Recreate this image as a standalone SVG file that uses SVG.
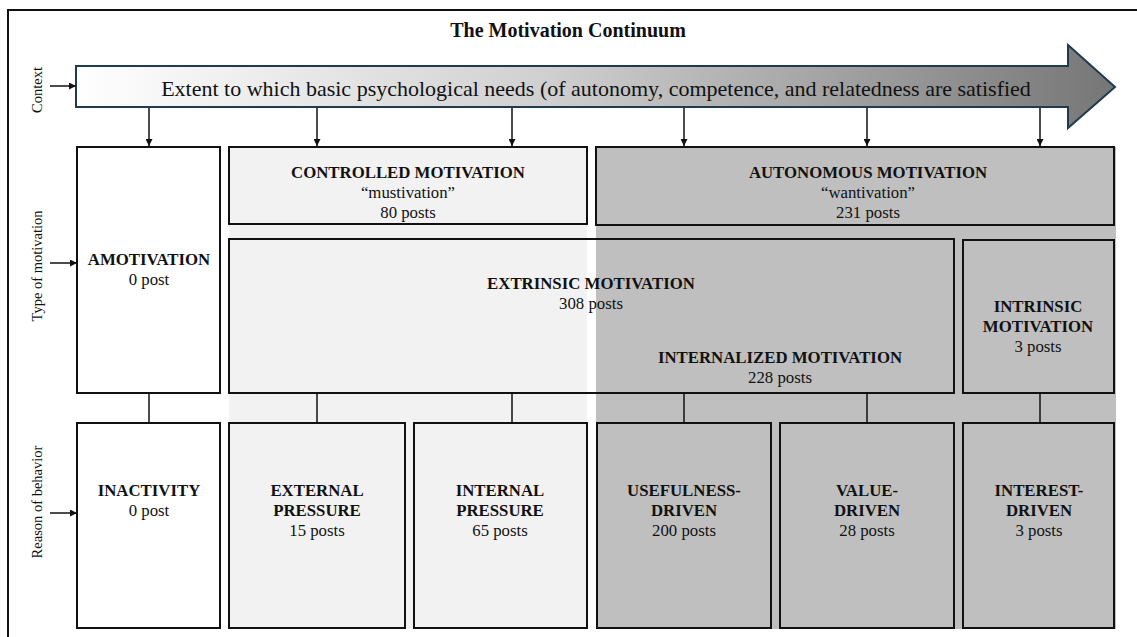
<svg xmlns="http://www.w3.org/2000/svg" width="1137" height="637" viewBox="0 0 1137 637" font-family="'Liberation Serif', 'DejaVu Serif', serif">
<style>
  text { font-family: 'Liberation Serif', 'DejaVu Serif', serif; fill: #111; }
  .b { font-weight: bold; font-size: 16.8px; }
  .r { font-size: 16.8px; }
  .side { font-size: 14.5px; }
  .box { stroke: #111; stroke-width: 2; }
  .con { stroke: #111; stroke-width: 1.5; fill: none; }
</style>
<defs>
  <linearGradient id="grad" x1="0" y1="0" x2="1" y2="0">
    <stop offset="0" stop-color="#ffffff"/>
    <stop offset="0.45" stop-color="#d0d0d0"/>
    <stop offset="1" stop-color="#767676"/>
  </linearGradient>
  <marker id="ah" viewBox="0 0 10 10" refX="10" refY="5" markerWidth="7" markerHeight="7" markerUnits="userSpaceOnUse" orient="auto">
    <path d="M0,0 L10,5 L0,10 Z" fill="#111"/>
  </marker>
</defs>
<rect width="1137" height="637" fill="#ffffff"/>
<rect x="8" y="10" width="1140" height="640" fill="none" stroke="#111" stroke-width="2"/>
<g id="columns">
  <rect x="229" y="147" width="358" height="482" fill="#f2f2f2"/>
  <rect x="596" y="147" width="520" height="482" fill="#bfbfbf"/>
</g>
<text x="568" y="37" text-anchor="middle" class="b" style="font-size:20px">The Motivation Continuum</text>
<g id="side-labels">
  <text class="side" text-anchor="middle" transform="translate(42,90) rotate(-90)">Context</text>
  <text class="side" text-anchor="middle" transform="translate(42,266) rotate(-90)">Type of motivation</text>
  <text class="side" text-anchor="middle" transform="translate(42,502) rotate(-90)">Reason of behavior</text>
</g>
<g id="context">
  <path d="M76,66 L1068,66 L1068,45 L1115,87 L1068,128 L1068,107 L76,107 Z" fill="url(#grad)" stroke="#1f3b4d" stroke-width="2"/>
  <text x="596" y="96" text-anchor="middle" style="font-size:22px">Extent to which basic psychological needs (of autonomy, competence, and relatedness are satisfied</text>
</g>
<g id="amotivation">
  <rect class="box" x="77" y="147" width="143" height="246" fill="#ffffff"/>
  <text x="149" y="265" text-anchor="middle" class="b">AMOTIVATION</text>
  <text x="149" y="285" text-anchor="middle" class="r">0 post</text>
</g>
<g id="controlled">
  <rect class="box" x="229" y="147" width="358" height="77" fill="#f2f2f2"/>
  <text x="408" y="178" text-anchor="middle" class="b">CONTROLLED MOTIVATION</text>
  <text x="408" y="198" text-anchor="middle" class="r">“mustivation”</text>
  <text x="408" y="218" text-anchor="middle" class="r">80 posts</text>
</g>
<g id="autonomous">
  <rect class="box" x="596" y="147" width="518" height="78" fill="#bfbfbf"/>
  <text x="868" y="178" text-anchor="middle" class="b">AUTONOMOUS MOTIVATION</text>
  <text x="868" y="198" text-anchor="middle" class="r">“wantivation”</text>
  <text x="868" y="218" text-anchor="middle" class="r">231 posts</text>
</g>
<g id="extrinsic">
  <rect class="box" x="229" y="239" width="725" height="154" fill="none"/>
  <text x="591" y="289" text-anchor="middle" class="b">EXTRINSIC MOTIVATION</text>
  <text x="591" y="309" text-anchor="middle" class="r">308 posts</text>
</g>
<g id="internalized">
  <text x="780" y="363" text-anchor="middle" class="b">INTERNALIZED MOTIVATION</text>
  <text x="780" y="383" text-anchor="middle" class="r">228 posts</text>
</g>
<g id="intrinsic">
  <rect class="box" x="963" y="240" width="151" height="153" fill="none"/>
  <text x="1038" y="312" text-anchor="middle" class="b">INTRINSIC</text>
  <text x="1038" y="332" text-anchor="middle" class="b">MOTIVATION</text>
  <text x="1038" y="352" text-anchor="middle" class="r">3 posts</text>
</g>
<g id="inactivity">
  <rect class="box" x="77" y="423" width="143" height="205" fill="#ffffff"/>
  <text x="149" y="496" text-anchor="middle" class="b">INACTIVITY</text>
  <text x="149" y="516" text-anchor="middle" class="r">0 post</text>
</g>
<g id="external">
  <rect class="box" x="229" y="423" width="176" height="205" fill="none"/>
  <text x="317" y="496" text-anchor="middle" class="b">EXTERNAL</text>
  <text x="317" y="516" text-anchor="middle" class="b">PRESSURE</text>
  <text x="317" y="536" text-anchor="middle" class="r">15 posts</text>
</g>
<g id="internal">
  <rect class="box" x="414" y="423" width="173" height="205" fill="none"/>
  <text x="500" y="496" text-anchor="middle" class="b">INTERNAL</text>
  <text x="500" y="516" text-anchor="middle" class="b">PRESSURE</text>
  <text x="500" y="536" text-anchor="middle" class="r">65 posts</text>
</g>
<g id="usefulness">
  <rect class="box" x="597" y="423" width="174" height="205" fill="none"/>
  <text x="684" y="496" text-anchor="middle" class="b">USEFULNESS-</text>
  <text x="684" y="516" text-anchor="middle" class="b">DRIVEN</text>
  <text x="684" y="536" text-anchor="middle" class="r">200 posts</text>
</g>
<g id="value">
  <rect class="box" x="780" y="423" width="174" height="205" fill="none"/>
  <text x="867" y="496" text-anchor="middle" class="b">VALUE-</text>
  <text x="867" y="516" text-anchor="middle" class="b">DRIVEN</text>
  <text x="867" y="536" text-anchor="middle" class="r">28 posts</text>
</g>
<g id="interest">
  <rect class="box" x="963" y="423" width="151" height="205" fill="none"/>
  <text x="1039" y="496" text-anchor="middle" class="b">INTEREST-</text>
  <text x="1039" y="516" text-anchor="middle" class="b">DRIVEN</text>
  <text x="1039" y="536" text-anchor="middle" class="r">3 posts</text>
</g>
<g id="connectors">
  <line class="con" x1="50" y1="86" x2="76" y2="86" marker-end="url(#ah)"/>
  <line class="con" x1="50" y1="263" x2="77" y2="263" marker-end="url(#ah)"/>
  <line class="con" x1="50" y1="513" x2="77" y2="513" marker-end="url(#ah)"/>
  <line class="con" x1="149" y1="108" x2="149" y2="146" marker-end="url(#ah)"/>
  <line class="con" x1="317" y1="108" x2="317" y2="146" marker-end="url(#ah)"/>
  <line class="con" x1="512" y1="108" x2="512" y2="146" marker-end="url(#ah)"/>
  <line class="con" x1="684" y1="108" x2="684" y2="146" marker-end="url(#ah)"/>
  <line class="con" x1="867" y1="108" x2="867" y2="146" marker-end="url(#ah)"/>
  <line class="con" x1="1040" y1="108" x2="1040" y2="146" marker-end="url(#ah)"/>
  <line class="con" x1="149" y1="393" x2="149" y2="423"/>
  <line class="con" x1="317" y1="393" x2="317" y2="423"/>
  <line class="con" x1="512" y1="393" x2="512" y2="423"/>
  <line class="con" x1="684" y1="393" x2="684" y2="423"/>
  <line class="con" x1="867" y1="393" x2="867" y2="423"/>
  <line class="con" x1="1040" y1="393" x2="1040" y2="423"/>
</g>
</svg>
